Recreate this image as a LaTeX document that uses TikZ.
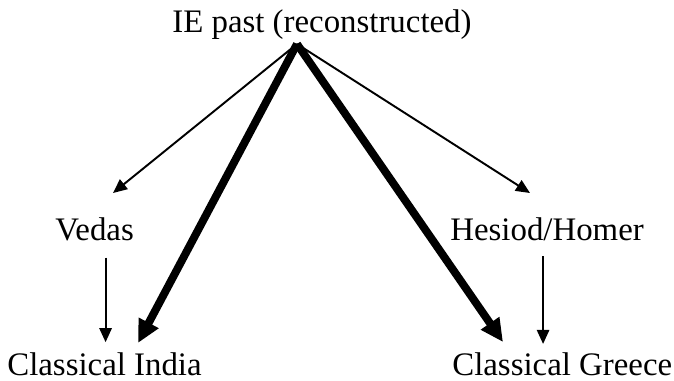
\documentclass[tikz,border=0pt]{standalone}
\usepackage{fontspec}
\setmainfont{Liberation Serif}
\usepackage{tikz}
\usetikzlibrary{arrows.meta}

\begin{document}
\begin{tikzpicture}[x=0.02cm,y=-0.02cm,font=\fontsize{18.7}{22}\selectfont,
        era/.style={anchor=base west,inner sep=0pt},
        link/.style={-{Triangle[length=8pt,width=7pt]},line width=1.1pt},
        mainline/.style={-{Triangle[length=13pt,width=12pt]},line width=4.5pt}]
      \useasboundingbox (0,0) rectangle (674,380);
      \node[era] (ie) at (172,32) {IE past (reconstructed)};
      \node[era] (vedas) at (55,240) {Vedas};
      \node[era] (hesiod) at (450,240) {Hesiod/Homer};
      \node[era] (india) at (7,375) {Classical India};
      \node[era] (greece) at (452,375) {Classical Greece};
      \coordinate (apex) at (297,44);
      \coordinate (vedasIn) at (113,193);
      \coordinate (hesiodIn) at (530,193);
      \coordinate (indiaIn) at (138,343);
      \coordinate (greeceIn) at (503,342);
      \draw[link] (apex)--(vedasIn);
      \draw[link] (apex)--(hesiodIn);
      \draw[mainline] (apex)--(indiaIn);
      \draw[mainline] (apex)--(greeceIn);
      \draw[link,shorten <=9.6pt,shorten >=5.5pt] ([xshift=0.22cm]vedas.south)--([xshift=0.22cm]vedas.south |- india.north);
      \draw[link,shorten <=9pt,shorten >=4.5pt] ([xshift=-0.08cm]hesiod.south)--([xshift=-0.08cm]hesiod.south |- greece.north);
    \end{tikzpicture}
\end{document}
